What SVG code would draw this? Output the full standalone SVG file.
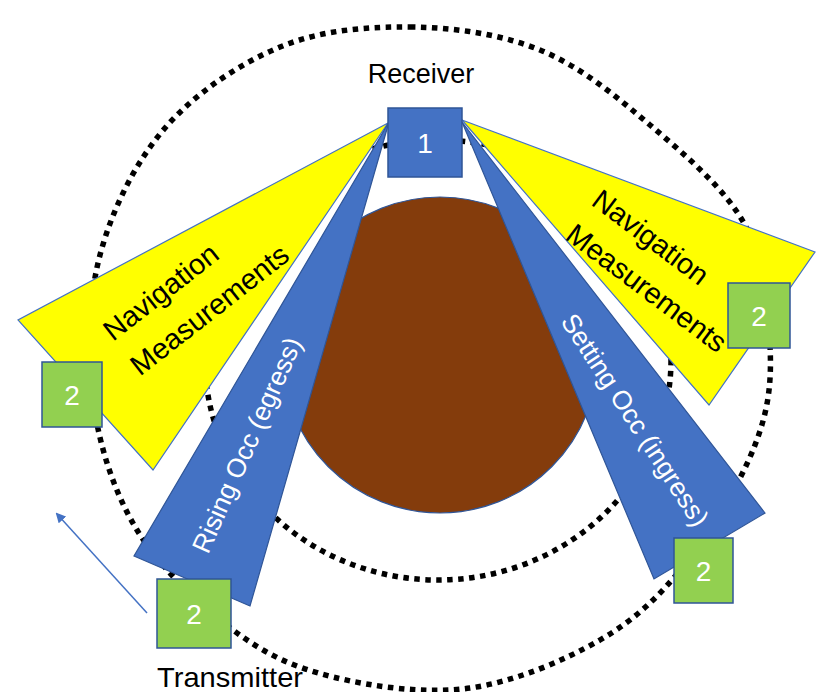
<svg xmlns="http://www.w3.org/2000/svg" width="819" height="692" viewBox="0 0 819 692">
<defs>
<style>
.dot{fill:none;stroke:#000;stroke-width:5.5;stroke-dasharray:5.5 5.5}
.yel{fill:#FFFF00;stroke:#4472C4;stroke-width:1.2}
.wedge{fill:#4472C4;stroke:#2F5597;stroke-width:1.2}
.box1{fill:#4472C4;stroke:#2F5597;stroke-width:1.5}
.box2{fill:#92D050;stroke:#2F5597;stroke-width:1.5}
.t{font-family:"Liberation Sans",Arial,sans-serif}
.num{font-size:28px;fill:#fff;text-anchor:middle}
.lbl{font-size:29px;fill:#000}
.wl{font-size:26.5px;fill:#fff;text-anchor:middle}
</style>
<marker id="ah" markerWidth="10" markerHeight="10" refX="8" refY="5" orient="auto" markerUnits="userSpaceOnUse">
<path d="M0,0 L10,5 L0,10 z" fill="#4472C4"/>
</marker>
</defs>
<rect width="819" height="692" fill="#fff"/>
<g id="orbits">
<path class="dot" d="M410,27 C453.3,27.5 500,33.7 540,50 C580,66.3 615.8,95.8 650,125 C684.2,154.2 725,188.3 745,225 C765,261.7 768.3,308.3 770,345 C771.7,381.7 769,408.7 755,445 C741,481.3 711.8,530.5 686,563 C660.2,595.5 636,619.2 600,640 C564,660.8 514.5,681.8 470,688 C425.5,694.2 372.5,686.7 333,677 C293.5,667.3 265.7,654.5 233,630 C200.3,605.5 160.3,568.3 137,530 C113.7,491.7 99.2,445.8 93,400 C86.8,354.2 88,300.3 100,255 C112,209.7 135,162.7 165,128 C195,93.3 239.2,63.8 280,47 C320.8,30.2 366.7,26.5 410,27 Z"/>
<ellipse class="dot" cx="438" cy="360" rx="233" ry="220"/>
</g>
<g id="planet">
<circle cx="440" cy="355" r="158" fill="#843C0C" stroke="#2F5597" stroke-width="1.2"/>
</g>
<g id="nav-left">
<polygon class="yel" points="388,123 18,320 153,470"/>
<g transform="translate(113,342) rotate(-38)">
<text class="t lbl" x="0" y="0">Navigation</text>
<text class="t lbl" x="0" y="44">Measurements</text>
</g>
</g>
<g id="nav-right">
<polygon class="yel" points="462,120 815,252 709,405"/>
<g transform="translate(590,204) rotate(37)">
<text class="t lbl" x="0" y="0">Navigation</text>
<text class="t lbl" x="0" y="43">Measurements</text>
</g>
</g>
<g id="rising">
<polygon class="wedge" points="389,122 250,606 134,556"/>
<g transform="translate(247,445) rotate(-66)">
<text class="t wl" x="0" y="9">Rising Occ (egress)</text>
</g>
</g>
<g id="setting">
<polygon class="wedge" points="462,122 765,513 654,579"/>
<g transform="translate(635,420) rotate(57)">
<text class="t wl" x="0" y="9">Setting Occ (ingress)</text>
</g>
</g>
<g id="receiver">
<text class="t" x="421" y="83" font-size="27" text-anchor="middle" fill="#000">Receiver</text>
<rect class="box1" x="388" y="108" width="74" height="69"/>
<text class="t num" x="425" y="152.5">1</text>
</g>
<g id="tx-left">
<rect class="box2" x="42" y="362" width="60" height="65"/>
<text class="t num" x="72" y="404.5">2</text>
</g>
<g id="tx-right">
<rect class="box2" x="728" y="283" width="62" height="65"/>
<text class="t num" x="759" y="325.5">2</text>
</g>
<g id="tx-bottom-right">
<rect class="box2" x="674" y="538" width="59" height="65"/>
<text class="t num" x="703.5" y="580.5">2</text>
</g>
<g id="transmitter">
<rect class="box2" x="157" y="579" width="74" height="69"/>
<text class="t num" x="194" y="623.5">2</text>
<text class="t" x="230" y="687" font-size="28.5" text-anchor="middle" fill="#000" textLength="146" lengthAdjust="spacingAndGlyphs">Transmitter</text>
</g>
<g id="connectors">
<line x1="147" y1="613" x2="57" y2="514" stroke="#4472C4" stroke-width="1.5" marker-end="url(#ah)"/>
</g>
</svg>
